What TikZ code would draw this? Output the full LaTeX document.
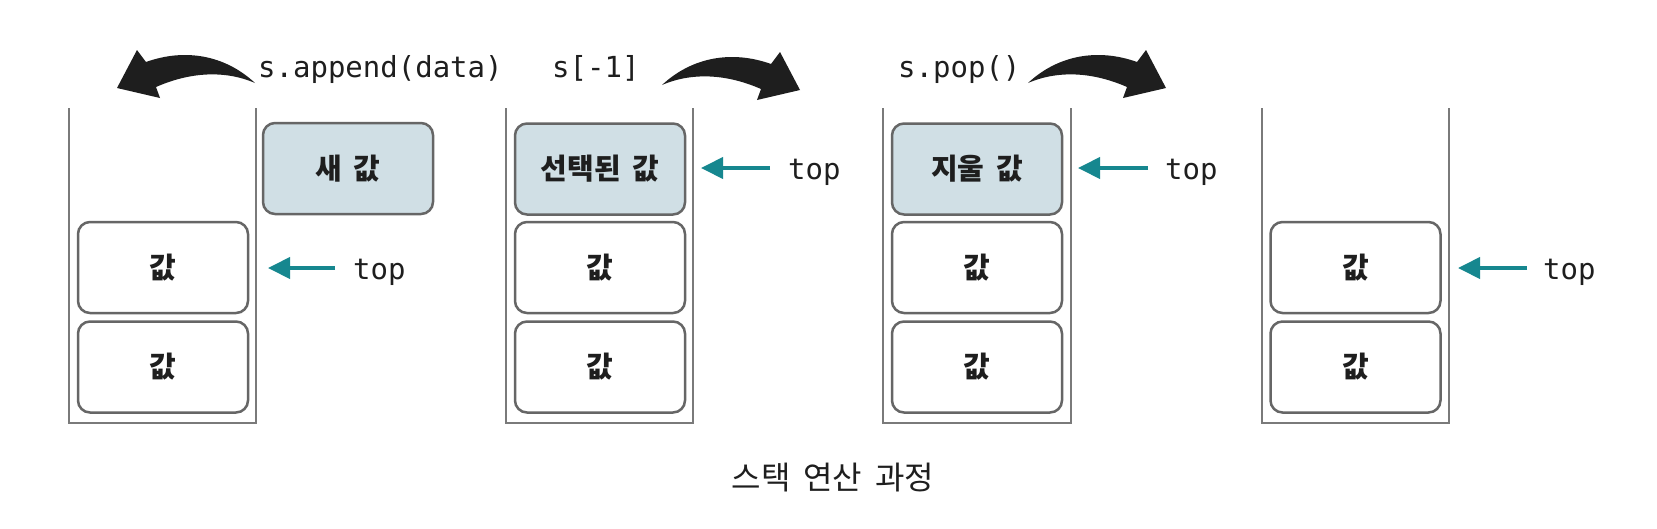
\documentclass[tikz,border=0pt]{standalone}
\usepackage{fontspec}
\setmonofont{DejaVu Sans Mono}
\newfontfamily\kr{Noto Sans CJK KR}
\usetikzlibrary{arrows.meta}
\definecolor{wallgray}{HTML}{7A7A7A}
\definecolor{boxgray}{HTML}{666666}
\definecolor{selfill}{HTML}{D0DFE5}
\definecolor{tealc}{HTML}{16878F}
\definecolor{inkc}{HTML}{1E1E1E}
\newcommand{\krsp}{\hspace{0.4em}}
\tikzset{
  wall/.style={draw=wallgray, line width=2pt},
  valbox/.style={draw=boxgray, line width=2.5pt, rounded corners=12pt, fill=white,
    minimum width=170pt, minimum height=91pt, inner sep=0pt, text=inkc,
    font=\kr\bfseries\fontsize{29}{31}\selectfont},
  selbox/.style={valbox, fill=selfill},
  codelbl/.style={anchor=base west, inner sep=0pt, text=inkc,
    font=\ttfamily\fontsize{29}{31}\selectfont},
  toplbl/.style={codelbl},
  tealarr/.style={draw=tealc, line width=4pt, -{Triangle[length=22pt,width=21pt]}},
  bigarrow/.pic={\fill[inkc] (0,0) .. controls (30,-28) and (70,-35) .. (109,-21)
      -- (118,-33) -- (138,5) -- (95,15) -- (99,4)
      .. controls (65,-11) and (30,-13) .. (0,0) -- cycle;}
}
\begin{document}
\begin{tikzpicture}[x=1pt,y=-1pt]
\useasboundingbox[fill=white] (0,0) rectangle (1657,528);

% stack walls
\draw[wall] (69,108) -- (69,423) -- (256,423) -- (256,108);
\draw[wall] (506,108) -- (506,423) -- (693,423) -- (693,108);
\draw[wall] (883,108) -- (883,423) -- (1071,423) -- (1071,108);
\draw[wall] (1262,108) -- (1262,423) -- (1449,423) -- (1449,108);

% stack 1
\node[selbox] (new) at (348,168.5) {새\krsp 값};
\node[valbox] (s1a) at (163,267.5) {값};
\node[valbox] (s1b) at (163,367) {값};
% stack 2
\node[selbox] (s2t) at (600,169) {선택된\krsp 값};
\node[valbox] (s2a) at (600,267.5) {값};
\node[valbox] (s2b) at (600,367) {값};
% stack 3
\node[selbox] (s3t) at (977,169) {지울\krsp 값};
\node[valbox] (s3a) at (977,267.5) {값};
\node[valbox] (s3b) at (977,367) {값};
% stack 4
\node[valbox] (s4a) at (1355.5,267.5) {값};
\node[valbox] (s4b) at (1355.5,367) {값};

% operation labels
\node[codelbl] (op1) at (258,77) {s.append(data)};
\node[codelbl] (op2) at (552,77) {s[-1]};
\node[codelbl] (op3) at (898,77) {s.pop()};

% big curved arrows
\pic[xscale=-1] at (255,83) {bigarrow};
\pic at (662,85) {bigarrow};
\pic at (1028,83) {bigarrow};

% top pointers
\node[toplbl] (top1) at (353,279) {top};
\node[toplbl] (top2) at (788,179) {top};
\node[toplbl] (top3) at (1165,179) {top};
\node[toplbl] (top4) at (1543,279) {top};
\coordinate (a1) at (335,268); \coordinate (b1) at (268,268);
\coordinate (a2) at (770,168); \coordinate (b2) at (701,168);
\coordinate (a3) at (1148,168); \coordinate (b3) at (1078,168);
\coordinate (a4) at (1527,268); \coordinate (b4) at (1458,268);
\draw[tealarr] (a1) -- (b1);
\draw[tealarr] (a2) -- (b2);
\draw[tealarr] (a3) -- (b3);
\draw[tealarr] (a4) -- (b4);

% caption
\node[text=inkc, font=\kr\fontsize{32}{34}\selectfont, inner sep=0pt] (cap) at (833,478) {스택\krsp 연산\krsp 과정};
\end{tikzpicture}
\end{document}
